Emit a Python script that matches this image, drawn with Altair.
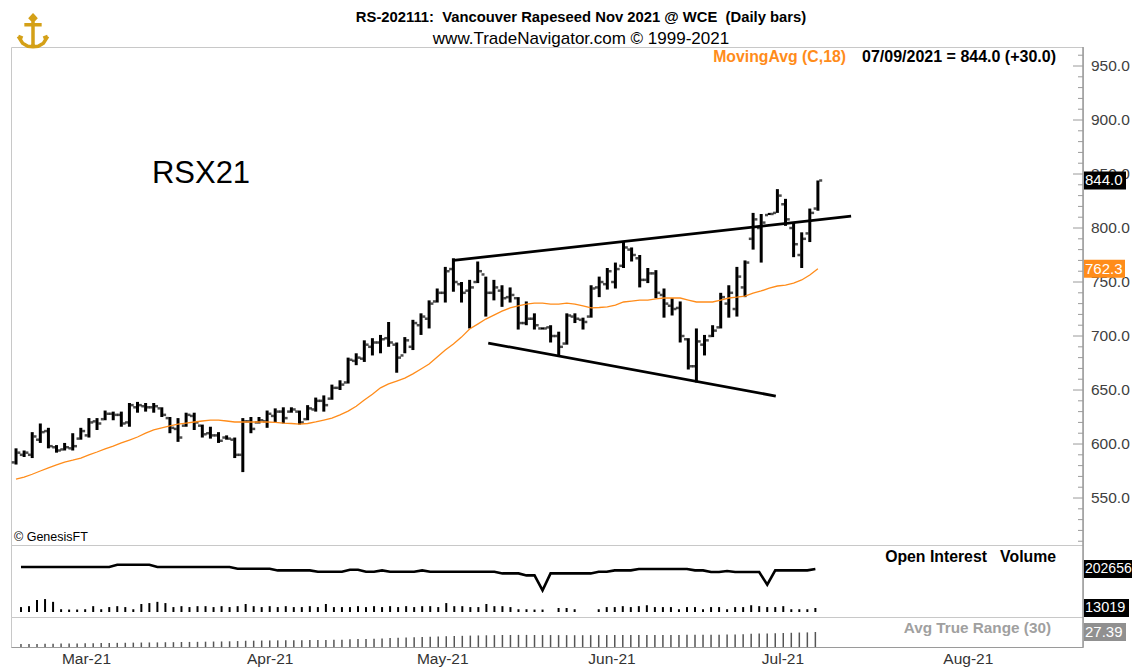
import altair as alt
import pandas as pd

# ---------------- data ----------------
opens = [583, 590, 590, 604, 612, 597, 595, 596, 605, 608,
         621, 623, 628, 627, 620, 634, 635, 634, 633, 624,
         614, 617, 626, 617, 610, 608, 606, 604, 590, 621,
         620, 621, 626, 630, 630, 630, 623, 632, 640, 642,
         652, 657, 677, 679, 690, 694, 698, 692, 682, 690,
         710, 716, 732, 740, 762, 748, 742, 750, 757, 740,
         742, 736, 735, 712, 716, 707, 708, 700, 693, 718,
         715, 718, 745, 748, 750, 765, 780, 772, 752, 758,
         738, 728, 726, 697, 672, 692, 700, 708, 730, 725,
         745, 790, 800, 812, 814, 822, 800, 775, 795, 818]
highs = [596, 594, 611, 619, 615, 599, 601, 610, 615, 624,
         624, 631, 630, 630, 638, 639, 638, 638, 634, 625,
         624, 629, 629, 618, 616, 611, 608, 606, 624, 625,
         625, 631, 633, 634, 634, 631, 636, 643, 645, 655,
         659, 680, 684, 696, 698, 701, 713, 694, 699, 715,
         721, 733, 744, 764, 772, 750, 752, 769, 755, 752,
         747, 745, 736, 732, 721, 708, 710, 704, 721, 721,
         717, 747, 755, 763, 768, 787, 782, 775, 763, 761,
         744, 735, 732, 698, 707, 701, 710, 740, 747, 764,
         770, 814, 813, 814, 836, 827, 805, 796, 818, 844]
lows = [581, 588, 587, 601, 596, 592, 594, 594, 604, 606,
        613, 622, 622, 616, 616, 629, 630, 629, 625, 610,
        602, 616, 613, 606, 605, 601, 604, 587, 574, 610,
        619, 615, 620, 619, 629, 618, 622, 630, 630, 641,
        650, 656, 673, 676, 682, 684, 690, 666, 684, 687,
        701, 707, 731, 731, 741, 731, 707, 749, 718, 733,
        727, 731, 706, 710, 706, 706, 694, 682, 692, 712,
        706, 717, 736, 743, 744, 763, 769, 745, 749, 735,
        717, 719, 694, 669, 657, 682, 699, 707, 717, 718,
        736, 780, 768, 812, 814, 802, 773, 763, 787, 816]
closes = [592, 592, 607, 611, 598, 594, 597, 598, 612, 620,
          619, 628, 627, 619, 636, 636, 634, 635, 627, 615,
          606, 627, 620, 609, 608, 603, 605, 590, 621, 614,
          622, 628, 630, 624, 632, 620, 633, 640, 636, 652,
          655, 678, 680, 692, 694, 697, 694, 680, 696, 712,
          718, 730, 740, 760, 750, 740, 745, 760, 740, 745,
          735, 738, 712, 716, 710, 707, 700, 690, 719, 716,
          713, 744, 750, 760, 762, 782, 775, 752, 758, 740,
          730, 725, 700, 672, 695, 696, 705, 736, 740, 755,
          768, 808, 805, 813, 830, 808, 785, 790, 814, 844]
ma18 = [567.6, 569.4, 572.0, 575.0, 578.0, 580.6, 583.3, 585.0, 587.0, 590.0,
        592.6, 595.4, 598.0, 601.0, 603.7, 606.5, 610.0, 613.0, 615.0, 616.7,
        618.5, 619.4, 620.4, 621.3, 622.2, 622.2, 621.3, 620.4, 620.4, 620.4,
        620.4, 620.4, 620.0, 619.4, 619.0, 618.5, 619.0, 620.4, 622.2, 624.0,
        627.0, 630.5, 635.0, 640.7, 646.0, 652.0, 655.6, 658.3, 661.0, 665.0,
        669.4, 674.0, 680.6, 687.0, 692.6, 699.0, 706.5, 711.0, 715.7, 719.4,
        723.0, 726.0, 727.8, 729.6, 730.5, 730.5, 729.6, 729.6, 730.5, 729.6,
        727.8, 726.0, 726.4, 727.0, 728.7, 731.5, 732.4, 733.3, 733.3, 734.3,
        735.2, 735.2, 735.2, 733.3, 731.5, 731.5, 731.5, 733.3, 735.2, 736.0,
        737.0, 739.8, 741.7, 744.4, 746.3, 747.2, 749.0, 751.9, 756.5, 762.3]
open_interest = [204256] * 12 + [206096] * 5 + [204256] * 10 + [202896] * 5 + \
    [201536] * 5 + [200496] * 4 + [202096] * 2 + [200496] * 2 + [201536] + \
    [200496] * 4 + [201536] + [200496] * 9 + [199136] * 3 + [197536] * 2 + \
    [185536] + [199136] * 6 + [200496] * 2 + [201536] * 3 + [202656] * 7 + \
    [201536] * 2 + [200256] * 2 + [201056] + [200256] * 4 + [190096] + \
    [201536] * 5 + [202656]
volume = [16000, 19000, 39000, 42000, 33000, 9000, 8000, 8000, 9000, 19000,
          9000, 16000, 19000, 16000, 9000, 26000, 29000, 33000, 29000, 16000,
          19000, 16000, 19000, 19000, 16000, 19000, 16000, 19000, 26000, 19000,
          16000, 19000, 16000, 19000, 16000, 16000, 19000, 16000, 26000, 16000,
          16000, 16000, 19000, 16000, 19000, 16000, 19000, 16000, 19000, 16000,
          19000, 19000, 16000, 29000, 19000, 19000, 16000, 16000, 26000, 19000,
          19000, 16000, 9000, 9000, 8000, 8000, None, 13000, 13000, 9000,
          None, None, 9000, 16000, 16000, 19000, 16000, 19000, 22000, 16000,
          16000, 16000, 9000, 16000, 16000, 9000, 16000, 16000, 9000, 16000,
          16000, 22000, 19000, 16000, 16000, 19000, 9000, 9000, 9000, 13019]
atr = [12.0, 12.0, 12.2, 12.3, 12.5, 12.6, 12.7, 12.8, 13.0, 13.1,
       13.3, 13.4, 13.5, 13.6, 13.8, 13.9, 14.0, 14.1, 14.3, 14.4,
       14.6, 14.7, 14.8, 15.0, 15.2, 15.3, 15.5, 15.8, 16.2, 16.3,
       16.5, 16.6, 16.7, 16.8, 16.9, 17.0, 17.1, 17.2, 17.3, 17.5,
       17.6, 18.0, 18.3, 18.6, 18.9, 19.2, 19.6, 20.0, 20.3, 20.7,
       21.0, 21.3, 21.6, 22.0, 22.3, 22.5, 22.8, 23.0, 23.2, 23.4,
       23.6, 23.6, 23.7, 23.7, 23.6, 23.5, 23.5, 23.4, 23.4, 23.3,
       23.3, 23.4, 23.4, 23.5, 23.5, 23.6, 23.6, 23.6, 23.6, 23.6,
       23.7, 23.6, 23.7, 23.8, 24.0, 24.0, 23.9, 24.0, 24.1, 24.3,
       24.4, 25.2, 25.6, 25.5, 25.9, 26.1, 26.4, 26.7, 26.9, 27.39]

months = ["Mar-21", "Apr-21", "May-21", "Jun-21", "Jul-21", "Aug-21"]
month_pos = [8.1, 31.0, 52.5, 73.6, 94.9, 118.0]
trend_name = ["upper", "upper", "lower", "lower"]
trend_i = [54.0, 103.1, 58.3, 93.8]
trend_p = [770.0, 811.0, 693.5, 644.4]
major_ticks = [550, 600, 650, 700, 750, 800, 850, 900, 950]
minor_ticks = [510, 520, 530, 540, 560, 570, 580, 590, 610, 620, 630, 640,
               660, 670, 680, 690, 710, 720, 730, 740, 760, 770, 780, 790,
               810, 820, 830, 840, 860, 870, 880, 890, 910, 920, 930, 940, 960]

# ---------------- layout ----------------
W = 1072
H_MAIN, H_MID, H_BOT = 498, 72, 30
XDOM = [-0.62, 131.73]
YDOM = [506.5, 967.6]
OIDOM = [164256, 221856]
VOLDOM = [-16250, 217750]
ATRDOM = [8.2, 46.6]
FONT = "Liberation Sans"
ORANGE = "#FF8C1A"
AXIS_GRAY = "#9a9a9a"
GOLD = "#D4A017"
LOGO_PATH = ("M0,-0.95 L0.14,-0.8 L0,-0.65 L-0.14,-0.8 Z "
             "M0,-0.65 L0,0.85 M-0.5,-0.42 L0.5,-0.42 "
             "M-0.85,0.25 L-0.6,0.65 L-0.3,0.82 L0,0.85 L0.3,0.82 L0.6,0.65 L0.85,0.25 "
             "M-0.85,0.25 L-0.6,0.35 M0.85,0.25 L0.6,0.35")

n = len(closes)
bars = pd.DataFrame({"i": list(range(n)), "o": opens, "h": highs, "l": lows,
                     "c": closes, "ma": ma18, "oi": open_interest,
                     "vol": volume, "atr": atr})
trend = pd.DataFrame({"line": trend_name, "i": trend_i, "p": trend_p})

xs = alt.Scale(domain=XDOM, nice=False, zero=False)
X = alt.X("i:Q", scale=xs, axis=None)
ys = alt.Scale(domain=YDOM, nice=False, zero=False)


def text(t, x, y, size=13, color="black", weight="normal", align="left", font=FONT):
    return alt.Chart(pd.DataFrame({"t": [t]})).mark_text(
        align=align, baseline="middle", fontSize=size, color=color,
        fontWeight=weight, font=font).encode(text="t:N", x=alt.value(x), y=alt.value(y))


def vbox(value, label, fill, width, scale, size=15):
    df = pd.DataFrame({"v": [value], "t": [label]})
    r = alt.Chart(df).mark_rect(color=fill, yOffset=-9, y2Offset=9).encode(
        y=alt.Y("v:Q", scale=scale, axis=None), y2="v:Q",
        x=alt.value(W + 1), x2=alt.value(W + 1 + width))
    t = alt.Chart(df).mark_text(color="white", fontSize=size, font=FONT, align="left",
                                baseline="middle").encode(
        y=alt.Y("v:Q", scale=scale, axis=None), x=alt.value(W + 2), text="t:N")
    return [r, t]


def right_line(h):
    return alt.Chart(pd.DataFrame({"k": [0]})).mark_rule(
        color=AXIS_GRAY, strokeWidth=1.5).encode(
        x=alt.value(W), y=alt.value(0), y2=alt.value(h))


hl = alt.Chart(bars).mark_rule(color="black", strokeWidth=3).encode(
    x=X, y=alt.Y("l:Q", scale=ys, axis=None), y2="h:Q")
op = alt.Chart(bars).mark_tick(color="black", orient="horizontal", size=3,
                               thickness=2.5, xOffset=-2.8).encode(
    x=X, y=alt.Y("o:Q", scale=ys, axis=None))
cl = alt.Chart(bars).mark_tick(color="black", orient="horizontal", size=3,
                               thickness=2.5, xOffset=2.8).encode(
    x=X, y=alt.Y("c:Q", scale=ys, axis=None))
ma = alt.Chart(bars).mark_line(color=ORANGE, strokeWidth=1.3).encode(
    x=X, y=alt.Y("ma:Q", scale=ys, axis=None))
tl = alt.Chart(trend).mark_line(color="black", strokeWidth=2.8).encode(
    x=alt.X("i:Q", scale=xs, axis=None), y=alt.Y("p:Q", scale=ys, axis=None),
    detail="line:N")
tk_major = alt.Chart(pd.DataFrame({"v": major_ticks})).mark_rule(
    color=AXIS_GRAY, strokeWidth=1).encode(
    y=alt.Y("v:Q", scale=ys, axis=None), x=alt.value(W - 10), x2=alt.value(W))
tk_minor = alt.Chart(pd.DataFrame({"v": minor_ticks})).mark_rule(
    color=AXIS_GRAY, strokeWidth=1).encode(
    y=alt.Y("v:Q", scale=ys, axis=None), x=alt.value(W - 5), x2=alt.value(W))
tk_labels = alt.Chart(pd.DataFrame({"v": major_ticks})).transform_calculate(
    lab="format(datum.v, '.1f')").mark_text(
    align="left", baseline="middle", fontSize=15.5, font=FONT, color="#404040").encode(
    y=alt.Y("v:Q", scale=ys, axis=None), x=alt.value(W + 8), text="lab:N")
logo = alt.Chart(pd.DataFrame({"k": [0]})).mark_point(
    shape=LOGO_PATH, size=1200, filled=False, stroke=GOLD, strokeWidth=3.5,
    opacity=1).encode(x=alt.value(22), y=alt.value(-15))

last, prev = closes[-1], closes[-2]
info = f"07/09/2021 = {last:.1f} (+{last - prev:.1f})"
NB = "\u00a0"

main_layers = [hl, op, cl, ma, tl, tk_major, tk_minor, right_line(H_MAIN), tk_labels,
               logo,
               text(f"RS-202111:{NB} Vancouver Rapeseed Nov 2021 @ WCE {NB}(Daily bars)",
                    570, -29, size=14.8, weight="bold", align="center"),
               text("www.TradeNavigator.com \u00a9 1999-2021", 570, -8, size=17,
                    align="center"),
               text("MovingAvg (C,18)", 835, 10, size=15.8, color=ORANGE,
                    weight="bold", align="right"),
               text(info, 1045, 10, size=16, weight="bold", align="right"),
               text("RSX21", 190, 127, size=31, align="center"),
               text("\u00a9 GenesisFT", 3, 490, size=12.5)]
main_layers += vbox(last, f"{last:.1f}", "black", 42, ys)
main_layers += vbox(ma18[-1], f"{ma18[-1]:.1f}", ORANGE, 41, ys)
main = alt.layer(*main_layers).properties(width=W, height=H_MAIN)

# -------- open interest / volume panel --------
oi_s = alt.Scale(domain=OIDOM, nice=False, zero=False)
vol_s = alt.Scale(domain=VOLDOM, nice=False, zero=False)
oi_line = alt.Chart(bars).mark_line(color="black", strokeWidth=2.6).encode(
    x=X, y=alt.Y("oi:Q", scale=oi_s, axis=None))
vol_bars = alt.Chart(bars).transform_filter("isValid(datum.vol)").mark_bar(
    color="black", width=2).encode(
    x=X, y=alt.Y("vol:Q", scale=vol_s, axis=None), y2=alt.datum(0))
mid_layers = [oi_line, vol_bars, right_line(H_MID),
              text(f"Open Interest{NB}{NB} Volume", 1045, 12, size=15.8,
                   weight="bold", align="right")]
mid_layers += vbox(open_interest[-1], str(open_interest[-1]), "black", 48, oi_s, 14)
mid_layers += vbox(volume[-1], str(volume[-1]), "black", 45, vol_s, 14.5)
mid = alt.layer(*mid_layers).resolve_scale(y="independent").properties(
    width=W, height=H_MID)

# -------- ATR panel --------
atr_s = alt.Scale(domain=ATRDOM, nice=False, zero=False)
label_expr = ("[" + ",".join(f"'{m}'" for m in months) + "][indexof(["
              + ",".join(str(p) for p in month_pos) + "], datum.value)]")
atr_bars = alt.Chart(bars).mark_bar(color="#555555", width=1.5).encode(
    x=alt.X("i:Q", scale=xs, axis=alt.Axis(
        values=month_pos, labelExpr=label_expr, ticks=False, grid=False,
        domainColor=AXIS_GRAY, labelPadding=4, labelFontSize=15.5, labelFont=FONT,
        labelColor="#333333", labelOverlap=False, title=None)),
    y=alt.Y("atr:Q", scale=atr_s, axis=None), y2=alt.datum(ATRDOM[0]))
bot_layers = [atr_bars, right_line(H_BOT),
              text("Avg True Range (30)", 1040, 11, size=15.3, weight="bold",
                   color="#A0A0A0", align="right")]
bot_layers += vbox(atr[-1], f"{atr[-1]:.2f}", "#909090", 42, atr_s)
bot = alt.layer(*bot_layers).properties(width=W, height=H_BOT)

chart = alt.vconcat(main, mid, bot, spacing=0, bounds="flush").configure_view(
    stroke="#c8c8c8", strokeWidth=1).properties(
    padding={"left": 2, "top": 0, "right": 0, "bottom": 2}, background="white")

chart.save("out.html", embed_options={"renderer": "svg", "actions": False})
